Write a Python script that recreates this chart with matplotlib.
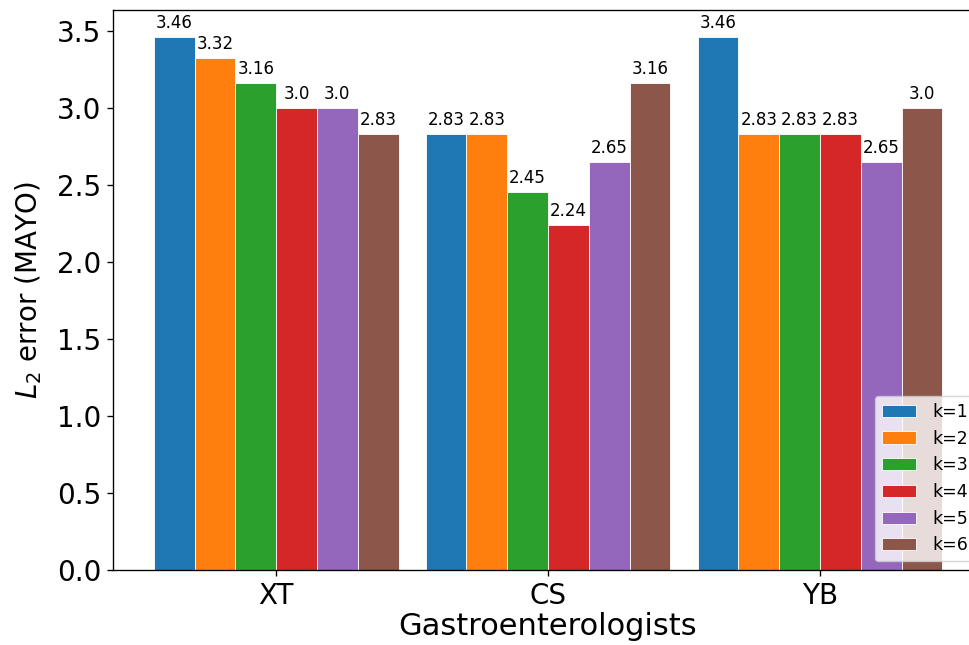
import matplotlib
matplotlib.use("Agg")
import matplotlib.pyplot as plt
import numpy as np

categories = ["XT", "CS", "YB"]
series_labels = ["k=1", "k=2", "k=3", "k=4", "k=5", "k=6"]
k1 = [3.46, 2.83, 3.46]
k2 = [3.32, 2.83, 2.83]
k3 = [3.16, 2.45, 2.83]
k4 = [3.0, 2.24, 2.83]
k5 = [3.0, 2.65, 2.65]
k6 = [2.83, 3.16, 3.0]
series = [k1, k2, k3, k4, k5, k6]

s = 1.2
plt.rcParams["axes.linewidth"] = 0.8 * s
plt.rcParams["xtick.major.size"] = 3.5 * s
plt.rcParams["ytick.major.size"] = 3.5 * s
plt.rcParams["xtick.major.width"] = 0.8 * s
plt.rcParams["ytick.major.width"] = 0.8 * s

fig = plt.figure(figsize=(9.7, 6.45), dpi=100)
ax = fig.add_axes([0.1165, 0.1163, 0.897, 0.868])

x = np.arange(len(categories))
width = 0.15
for i, (vals, lab) in enumerate(zip(series, series_labels)):
    offs = (i - 2.5) * width
    bars = ax.bar(x + offs, vals, width, label=lab, color=f"C{i}",
                  edgecolor="white", linewidth=0.6)
    ax.bar_label(bars, labels=[str(v) for v in vals], padding=3 * s, fontsize=12)

ax.set_xlim(-0.6, 2.6)
ax.set_ylim(0, 3.633)
ax.set_xticks(x)
ax.set_xticklabels(categories)
ax.tick_params(axis="both", labelsize=20, pad=3.5 * s)
ax.set_xlabel("Gastroenterologists", fontsize=22, labelpad=2)
ax.set_ylabel(r"$L_2$ error (MAYO)", fontsize=20, labelpad=9)
leg = ax.legend(loc="lower left", fontsize=12.5, bbox_to_anchor=(0.8655, 0.0),
                borderaxespad=0.5, handletextpad=0.9)

fig.savefig("out.png", dpi=100)
